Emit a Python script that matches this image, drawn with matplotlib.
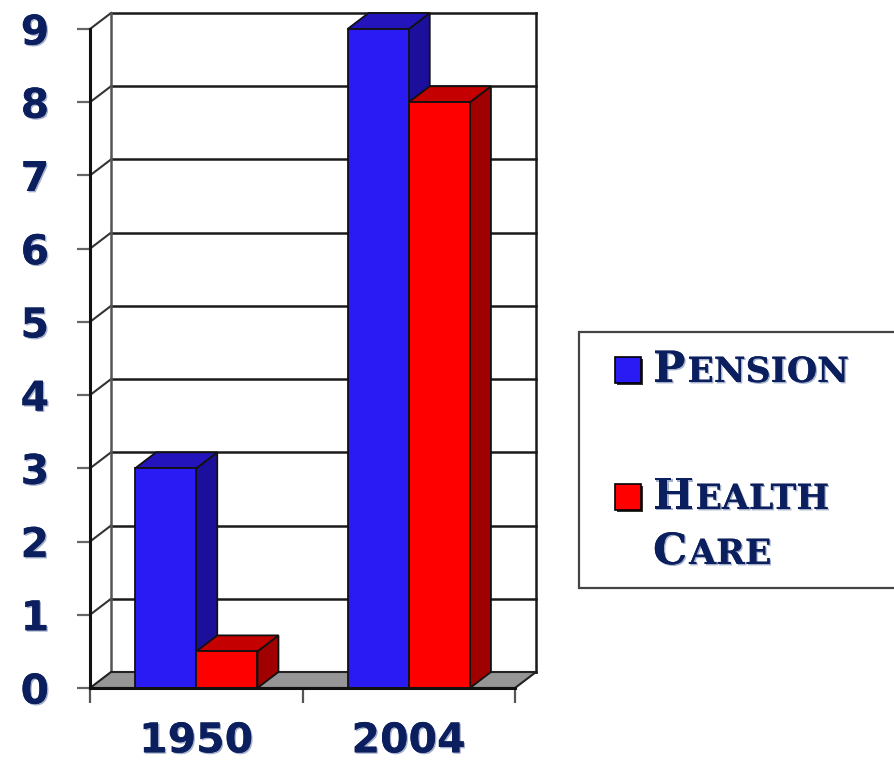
import matplotlib.pyplot as plt
from matplotlib.patches import Rectangle, Polygon
from matplotlib.ticker import FixedLocator, NullFormatter, FixedFormatter
import matplotlib.patheffects as pe

# Data
years = ['1950', '2004']
pension = [3, 9]
health_care = [0.5, 8]
series_names = ['Pension', 'Health Care']
y_ticks = list(range(0, 10))

navy = '#0b1f5e'
faces = {
    'Pension': ('#2a1bf5', '#1c0f9c', '#2414bb'),
    'Health Care': ('#ff0000', '#a00000', '#c40000'),
}

fig = plt.figure(figsize=(8.94, 7.63), dpi=100)
W, H = 894, 763
ax = fig.add_axes([90 / W, 75 / H, 425 / W, 659 / H])
ax.set_xlim(0, len(years))
ax.set_ylim(0, 9)
ax.patch.set_visible(False)

# depth of the 3-D box in data units (21 px across, 16 px up)
ddx = 21 / (425 / len(years))
ddy = 16 / (659 / 9)

text_shadow = [pe.withSimplePatchShadow(offset=(1, -1), shadow_rgbFace='#7d8db5', alpha=0.7),
               pe.Normal()]

# back wall and floor
for v in y_ticks:
    ax.plot([ddx, len(years) + ddx], [v + ddy, v + ddy], color='#1a1a1a', lw=1.8,
            clip_on=False, zorder=1)
    if v > 0:
        ax.plot([0, ddx], [v, v + ddy], color='#333333', lw=1.5, clip_on=False, zorder=1)
ax.plot([ddx, ddx], [ddy, 9 + ddy], color='#555555', lw=1.8, clip_on=False, zorder=1)
ax.plot([len(years) + ddx] * 2, [ddy, 9 + ddy], color='#1a1a1a', lw=1.8, clip_on=False, zorder=1)

floor = Polygon([(0, 0), (len(years), 0), (len(years) + ddx, ddy), (ddx, ddy)],
                closed=True, facecolor='#969696', edgecolor='#222222', lw=1.5,
                clip_on=False, zorder=2)
ax.add_patch(floor)

# 3-D bars
bar_w = 0.288
for i in range(len(years)):
    for j, (name, vals) in enumerate(zip(series_names, [pension, health_care])):
        v = vals[i]
        x0 = i + 0.5 - bar_w + j * bar_w
        front, side, top = faces[name]
        kw = dict(closed=True, edgecolor='#111111', lw=1.3, clip_on=False, zorder=3 + j)
        ax.add_patch(Polygon([(x0 + bar_w, 0), (x0 + bar_w + ddx, ddy),
                              (x0 + bar_w + ddx, v + ddy), (x0 + bar_w, v)],
                             facecolor=side, **kw))
        ax.add_patch(Polygon([(x0, v), (x0 + bar_w, v), (x0 + bar_w + ddx, v + ddy),
                              (x0 + ddx, v + ddy)], facecolor=top, **kw))
        ax.add_patch(Rectangle((x0, 0), bar_w, v, facecolor=front, edgecolor='#111111',
                               lw=1.3, clip_on=False, zorder=3 + j))

# axes lines and ticks
for s in ['top', 'right']:
    ax.spines[s].set_visible(False)
ax.spines['left'].set_color('#111111')
ax.spines['left'].set_linewidth(2.2)
ax.spines['bottom'].set_color('#111111')
ax.spines['bottom'].set_linewidth(2.2)
for s in ['left', 'bottom']:
    ax.spines[s].set_zorder(6)

ax.set_yticks(y_ticks)
ax.set_yticklabels([str(t) for t in y_ticks])
ax.tick_params(axis='y', direction='out', length=9.4, width=1.6, color='#666666',
               pad=20, labelsize=29.5, labelcolor=navy)

ax.xaxis.set_major_locator(FixedLocator(range(len(years) + 1)))
ax.xaxis.set_major_formatter(NullFormatter())
ax.xaxis.set_minor_locator(FixedLocator([i + 0.5 for i in range(len(years))]))
ax.xaxis.set_minor_formatter(FixedFormatter(years))
ax.tick_params(axis='x', which='major', direction='out', length=11, width=1.6,
               color='#555555')
ax.tick_params(axis='x', which='minor', length=0, pad=24, labelsize=29.5, labelcolor=navy)

for lbl in ax.get_yticklabels() + ax.get_xticklabels(minor=True):
    lbl.set_fontweight('bold')
    lbl.set_path_effects(text_shadow)

# legend box
fig.patches.append(Rectangle((579 / W, (H - 588) / H), (905 - 579) / W, 256 / H,
                             transform=fig.transFigure, facecolor='white',
                             edgecolor='#444444', lw=1.6, zorder=1))


def legend_entry(x_px, base_px, lines, color):
    # marker with a small drop shadow
    fig.patches.append(Rectangle(((x_px + 2) / W, (H - base_px - 3) / H), 26 / W, 26 / H,
                                 transform=fig.transFigure, facecolor='#333333',
                                 edgecolor='none', zorder=2))
    fig.patches.append(Rectangle((x_px / W, (H - base_px - 1) / H), 26 / W, 26 / H,
                                 transform=fig.transFigure, facecolor=color,
                                 edgecolor='black', lw=1.2, zorder=3))
    renderer = fig.canvas.get_renderer()
    tx = x_px + 38
    for k, word in enumerate(lines):
        by = base_px + k * 55
        t = fig.text(tx / W, (H - by) / H, word[0], fontsize=31, fontweight='bold',
                     family='DejaVu Serif', color=navy, va='baseline', ha='left',
                     path_effects=text_shadow)
        bb = t.get_window_extent(renderer)
        fig.text(bb.x1 / W + 2 / W, (H - by) / H, word[1:].upper(), fontsize=25,
                 fontweight='bold', family='DejaVu Serif', color=navy,
                 va='baseline', ha='left', path_effects=text_shadow)


legend_entry(615, 382, ['Pension'], faces['Pension'][0])
legend_entry(615, 509, ['Health', 'Care'], faces['Health Care'][0])

fig.savefig('out.png', dpi=100)
